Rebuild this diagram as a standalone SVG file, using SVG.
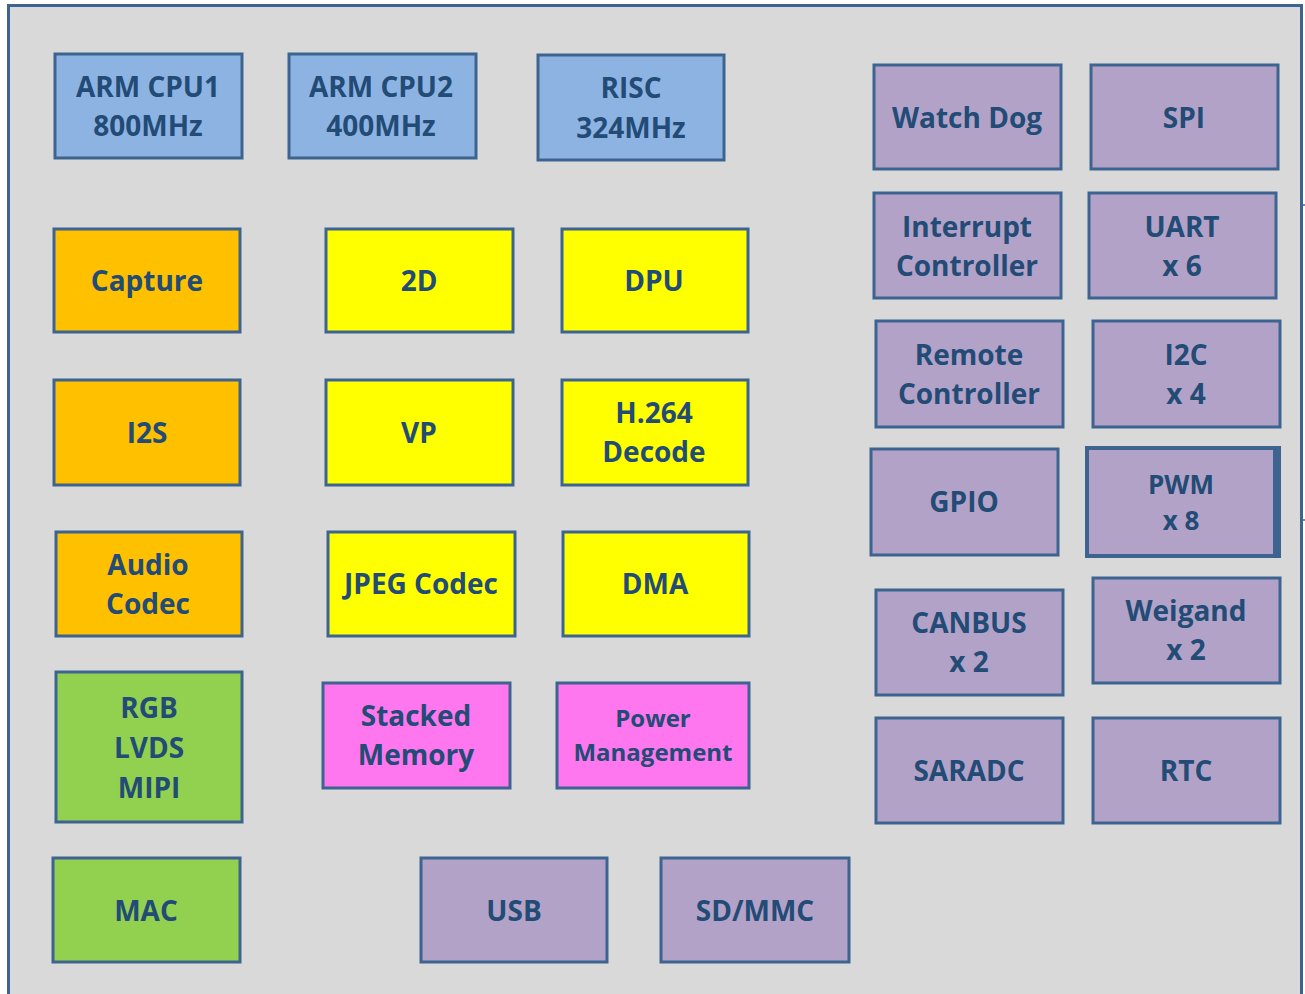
<svg xmlns="http://www.w3.org/2000/svg" width="1305" height="994" viewBox="0 0 1305 994">
<style>
.b{stroke:#3d6490;stroke-width:3}
.blue{fill:#8db3e2}.org{fill:#ffc000}.yel{fill:#ffff00}.grn{fill:#92d050}.pnk{fill:#ff77ee}.pur{fill:#b3a2c7}
text{font-family:"Open Sans","Liberation Sans",sans-serif;font-weight:bold;font-size:28px;fill:#224b76;text-anchor:middle}
.s{font-size:24px}
.m{font-size:26px}
</style>
<rect x="0" y="0" width="1305" height="994" fill="#ffffff"/>
<rect x="8.5" y="5.5" width="1293" height="995" fill="#d9d9d9" stroke="#3d6490" stroke-width="3"/>
<line x1="1302" y1="205" x2="1305" y2="205" stroke="#3d6490" stroke-width="1.5"/>
<line x1="1302" y1="520" x2="1305" y2="520" stroke="#3d6490" stroke-width="1.5"/>

<g id="arm-cpu1"><rect class="b blue" x="55" y="54" width="187" height="104"/><text x="148" y="97">ARM CPU1</text><text x="148" y="136">800MHz</text></g>
<g id="arm-cpu2"><rect class="b blue" x="289" y="54" width="187" height="104"/><text x="381" y="97">ARM CPU2</text><text x="381" y="136">400MHz</text></g>
<g id="risc"><rect class="b blue" x="538" y="55" width="186" height="105"/><text x="631" y="98">RISC</text><text x="631" y="138">324MHz</text></g>

<g id="capture"><rect class="b org" x="54" y="229" width="186" height="103"/><text x="147" y="291">Capture</text></g>
<g id="i2s"><rect class="b org" x="54" y="380" width="186" height="105"/><text x="147" y="443">I2S</text></g>
<g id="audio-codec"><rect class="b org" x="56" y="532" width="186" height="104"/><text x="148" y="575">Audio</text><text x="148" y="614">Codec</text></g>

<g id="2d"><rect class="b yel" x="326" y="229" width="187" height="103"/><text x="419" y="291">2D</text></g>
<g id="dpu"><rect class="b yel" x="562" y="229" width="186" height="103"/><text x="654" y="291">DPU</text></g>
<g id="vp"><rect class="b yel" x="326" y="380" width="187" height="105"/><text x="419" y="443">VP</text></g>
<g id="h264"><rect class="b yel" x="562" y="380" width="186" height="105"/><text x="654" y="423">H.264</text><text x="654" y="462">Decode</text></g>
<g id="jpeg"><rect class="b yel" x="328" y="532" width="187" height="104"/><text x="421" y="594">JPEG Codec</text></g>
<g id="dma"><rect class="b yel" x="563" y="532" width="186" height="104"/><text x="655" y="594">DMA</text></g>

<g id="rgb"><rect class="b grn" x="56" y="672" width="186" height="150"/><text x="149" y="718">RGB</text><text x="149" y="758">LVDS</text><text x="149" y="798">MIPI</text></g>
<g id="mac"><rect class="b grn" x="53" y="858" width="187" height="104"/><text x="146" y="921">MAC</text></g>

<g id="stacked-memory"><rect class="b pnk" x="323" y="683" width="187" height="105"/><text x="416" y="726">Stacked</text><text x="416" y="765">Memory</text></g>
<g id="power-management"><rect class="b pnk" x="557" y="683" width="192" height="105"/><text class="s" x="653" y="727">Power</text><text class="s" x="653" y="761">Management</text></g>

<g id="usb"><rect class="b pur" x="421" y="858" width="186" height="104"/><text x="514" y="921">USB</text></g>
<g id="sdmmc"><rect class="b pur" x="661" y="858" width="188" height="104"/><text x="755" y="921">SD/MMC</text></g>

<g id="watchdog"><rect class="b pur" x="874" y="65" width="187" height="104"/><text x="967" y="128">Watch Dog</text></g>
<g id="spi"><rect class="b pur" x="1091" y="65" width="187" height="104"/><text x="1184" y="128">SPI</text></g>
<g id="interrupt"><rect class="b pur" x="874" y="193" width="187" height="105"/><text x="967" y="237">Interrupt</text><text x="967" y="276">Controller</text></g>
<g id="uart"><rect class="b pur" x="1089" y="193" width="187" height="105"/><text x="1182" y="237">UART</text><text x="1182" y="276">x 6</text></g>
<g id="remote"><rect class="b pur" x="876" y="321" width="187" height="106"/><text x="969" y="365">Remote</text><text x="969" y="404">Controller</text></g>
<g id="i2c"><rect class="b pur" x="1093" y="321" width="187" height="106"/><text x="1186" y="365">I2C</text><text x="1186" y="404">x 4</text></g>
<g id="gpio"><rect class="b pur" x="871" y="449" width="187" height="106"/><text x="964" y="512">GPIO</text></g>
<g id="pwm"><rect x="1087" y="448" width="192" height="108" fill="#b3a2c7" stroke="#3d6490" stroke-width="4"/><rect x="1273" y="448" width="7" height="108" fill="#3d6490"/><text class="m" x="1181" y="494">PWM</text><text class="m" x="1181" y="530">x 8</text></g>
<g id="canbus"><rect class="b pur" x="876" y="590" width="187" height="105"/><text x="969" y="633">CANBUS</text><text x="969" y="672">x 2</text></g>
<g id="weigand"><rect class="b pur" x="1093" y="578" width="187" height="105"/><text x="1186" y="621">Weigand</text><text x="1186" y="660">x 2</text></g>
<g id="saradc"><rect class="b pur" x="876" y="718" width="187" height="105"/><text x="969" y="781">SARADC</text></g>
<g id="rtc"><rect class="b pur" x="1093" y="718" width="187" height="105"/><text x="1186" y="781">RTC</text></g>

<g id="connectors"></g>
</svg>
